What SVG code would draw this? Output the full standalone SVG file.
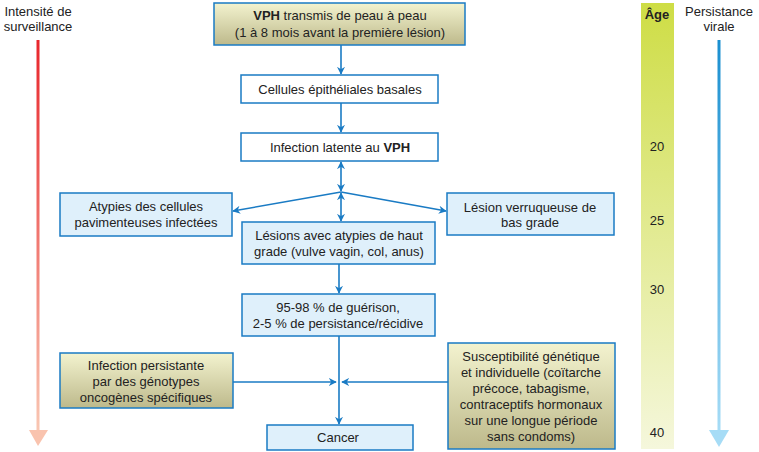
<svg xmlns="http://www.w3.org/2000/svg" width="759" height="452" viewBox="0 0 759 452">
<style>
text{font-family:"Liberation Sans",Arial,sans-serif;font-size:13px;fill:#222;text-anchor:middle}
.w{fill:#fff;stroke:#1a7bc4;stroke-width:1.5}
.b{fill:#dff0fb;stroke:#1a7bc4;stroke-width:1.5}
.o{fill:url(#ol);stroke:#1a7bc4;stroke-width:1.5}
.c line,.c polyline{stroke:#1a7bc4;stroke-width:1.6;fill:none}
</style>
<defs>
<linearGradient id="ol" x1="0" y1="0" x2="0" y2="1"><stop offset="0" stop-color="#f3f3cf"/><stop offset="1" stop-color="#bdb98b"/></linearGradient>
<linearGradient id="age" x1="0" y1="0" x2="0" y2="1"><stop offset="0" stop-color="#cedd45"/><stop offset="1" stop-color="#f5f7dc"/></linearGradient>
<linearGradient id="red" x1="0" y1="0" x2="0" y2="1"><stop offset="0" stop-color="#e8262c"/><stop offset="1" stop-color="#f9c7b3"/></linearGradient>
<linearGradient id="blu" x1="0" y1="0" x2="0" y2="1"><stop offset="0" stop-color="#1a8fd0"/><stop offset="1" stop-color="#a6dcf6"/></linearGradient>
<marker id="a" viewBox="0 0 10 10" refX="9" refY="5" markerWidth="5" markerHeight="5" orient="auto-start-reverse"><path d="M0,0 L10,5 L0,10 L3,5z" fill="#1a7bc4"/></marker>
</defs>
<g id="survIntensity">
<text x="38" y="16">Intensité de</text><text x="38" y="31">surveillance</text>
<rect x="36.5" y="40" width="3" height="392" fill="url(#red)"/>
<path d="M29,430 L48,430 L38,446z" fill="#f9c3ae"/>
</g>
<g id="persistence">
<text x="719" y="16">Persistance</text><text x="719" y="31">virale</text>
<rect x="717.5" y="40" width="3" height="392" fill="url(#blu)"/>
<path d="M709,430 L729,430 L719,447z" fill="#a6dcf6"/>
</g>
<g id="age">
<rect x="641" y="3" width="33" height="446" fill="url(#age)"/>
<text x="657" y="19" font-weight="bold" style="font-weight:bold">Âge</text>
<text x="657" y="151">20</text><text x="657" y="225">25</text><text x="657" y="294">30</text><text x="657" y="437">40</text>
</g>
<g class="c" id="connectors">
<line x1="341" y1="45" x2="341" y2="74" marker-end="url(#a)"/>
<line x1="341" y1="103" x2="341" y2="132" marker-end="url(#a)"/>
<line x1="341" y1="162" x2="341" y2="191" marker-start="url(#a)" marker-end="url(#a)"/>
<line x1="341" y1="193" x2="341" y2="221" marker-start="url(#a)" marker-end="url(#a)"/>
<line x1="341" y1="192" x2="233" y2="211" marker-end="url(#a)"/>
<line x1="341" y1="192" x2="446" y2="211" marker-end="url(#a)"/>
<line x1="339" y1="264" x2="339" y2="293" marker-end="url(#a)"/>
<line x1="339" y1="336" x2="339" y2="424" marker-end="url(#a)"/>
<line x1="233" y1="382" x2="336" y2="382" marker-end="url(#a)"/>
<line x1="448" y1="382" x2="342" y2="382" marker-end="url(#a)"/>
</g>
<g id="n1"><rect class="o" x="214" y="3" width="251" height="42"/>
<text x="340" y="20"><tspan font-weight="bold">VPH</tspan> transmis de peau à peau</text><text x="340" y="37">(1 à 8 mois avant la première lésion)</text></g>
<g id="n2"><rect class="w" x="241" y="75" width="197" height="28"/><text x="340" y="94">Cellules épithéliales basales</text></g>
<g id="n3"><rect class="w" x="241" y="133" width="197" height="28"/><text x="340" y="152">Infection latente au <tspan font-weight="bold">VPH</tspan></text></g>
<g id="n4"><rect class="b" x="60" y="193" width="172" height="43"/><text x="146" y="211">Atypies des cellules</text><text x="146" y="227">pavimenteuses infectées</text></g>
<g id="n5"><rect class="b" x="447" y="193" width="167" height="42"/><text x="530" y="212">Lésion verruqueuse de</text><text x="530" y="227">bas grade</text></g>
<g id="n6"><rect class="b" x="242" y="222" width="193" height="42"/><text x="339" y="240">Lésions avec atypies de haut</text><text x="339" y="256">grade (vulve vagin, col, anus)</text></g>
<g id="n7"><rect class="b" x="242" y="294" width="193" height="42"/><text x="338" y="312">95-98 % de guérison,</text><text x="338" y="328">2-5 % de persistance/récidive</text></g>
<g id="n8"><rect class="o" x="60" y="353" width="173" height="55"/><text x="146" y="370">Infection persistante</text><text x="146" y="386">par des génotypes</text><text x="146" y="402">oncogènes spécifiques</text></g>
<g id="n9"><rect class="o" x="448" y="343" width="167" height="106"/><text x="531" y="361">Susceptibilité génétique</text><text x="531" y="377">et individuelle (coïtarche</text><text x="531" y="393">précoce, tabagisme,</text><text x="531" y="409">contraceptifs hormonaux</text><text x="531" y="425">sur une longue période</text><text x="531" y="441">sans condoms)</text></g>
<g id="n10"><rect class="b" x="267" y="425" width="146" height="25"/><text x="338" y="442">Cancer</text></g>
</svg>
